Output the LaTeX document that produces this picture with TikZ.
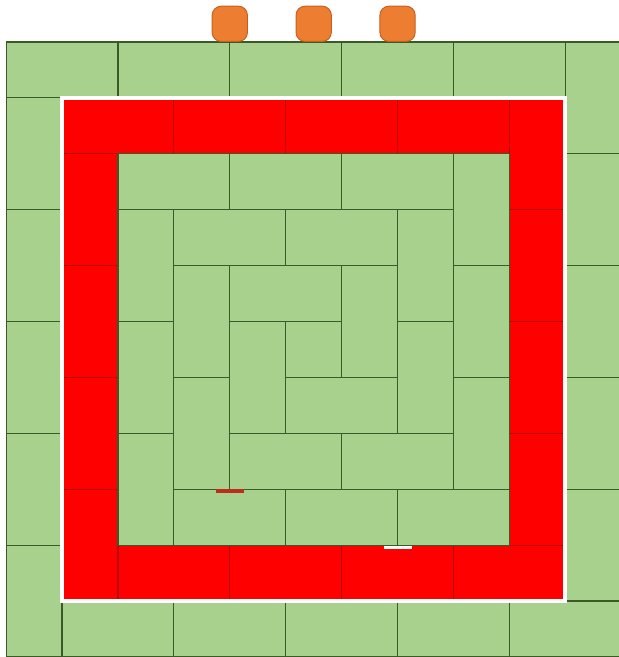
\documentclass[tikz,border=0pt]{standalone}
\usepackage{tikz}
\usetikzlibrary{positioning}

\definecolor{tilegreen}{HTML}{A9D18E}
\definecolor{groutline}{HTML}{3A5A28}
\definecolor{tilered}{HTML}{FF0000}
\definecolor{redline}{HTML}{B80000}
\definecolor{slotorange}{HTML}{ED7D31}
\definecolor{slotedge}{HTML}{C8601C}
\definecolor{markred}{HTML}{B8301C}

\begin{document}
\begin{tikzpicture}[
    x=1cm, y=1cm,
    tile/.style    = {fill=tilegreen, draw=groutline, line width=0.6pt},
    redtile/.style = {fill=tilered, draw=redline, line width=0.6pt},
    rim/.style     = {draw=white, line width=2.2pt},
    slot/.style    = {fill=slotorange, draw=slotedge, line width=0.5pt,
                      rounded corners=1.6mm, minimum size=6.3mm,
                      inner sep=0pt, anchor=south},
    nick/.style    = {line width=1.6pt},
  ]
  \clip (-0.11,0) rectangle (10.96,11.75);

  % rings of tiles, outside in, each one a pinwheel
  \foreach \k in {0,...,4}{
    \pgfmathtruncatemacro\m{5-\k}
    \ifnum\k=1 \def\tc{redtile}\else\def\tc{tile}\fi
    \foreach \i in {1,...,\m}{
      \pgfmathsetmacro\s{2*\i-2}
      \draw[\tc] (\k+\s, 10-\k) rectangle +(2,1);   % top
      \draw[\tc] (10-\k, \k+1+\s) rectangle +(1,2); % right
      \draw[\tc] (\k+1+\s, \k) rectangle +(2,1);    % bottom
      \draw[\tc] (\k, \k+\s) rectangle +(1,2);      % left
    }
  }
  \draw[tile] (5,5) rectangle (6,6);

  % white edge round the red ring
  \draw[rim] (1,1) rectangle (10,10);

  % small marks on two joints
  \coordinate (ra) at (3.75,2.97);
  \coordinate (rb) at (4.25,2.97);
  \coordinate (wa) at (6.75,1.96);
  \coordinate (wb) at (7.25,1.96);
  \draw[nick, markred] (ra) -- (rb);
  \draw[nick, white] (wa) -- (wb);

  % blocks above the top row
  \node[slot] (s1) at (4,11) {};
  \node[slot] (s2) at (5.5,11) {};
  \node[slot] (s3) at (7,11) {};
\end{tikzpicture}
\end{document}
